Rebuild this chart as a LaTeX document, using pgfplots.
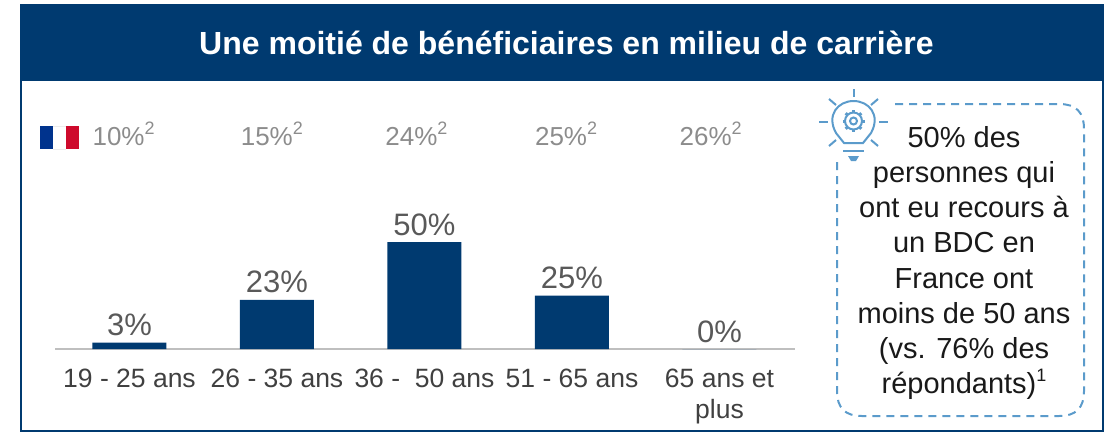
\documentclass[border=0pt]{standalone}
\usepackage{fontspec}
\setmainfont{Liberation Sans}
\usepackage{pgfplots}
\pgfplotsset{compat=1.18}
\definecolor{navy}{RGB}{0,58,112}
\definecolor{valgray}{RGB}{89,89,89}
\definecolor{refgray}{RGB}{140,140,140}
\definecolor{lbl}{RGB}{64,64,64}
\definecolor{bulb}{RGB}{91,155,203}
\definecolor{flagblue}{RGB}{0,51,141}
\definecolor{flagred}{RGB}{206,10,44}
\newcommand{\fs}[1]{\fontsize{#1}{#1}\selectfont}
\newcommand{\exposant}[2]{\raisebox{#1pt}{\fs{18}#2}}
\begin{document}
\begin{tikzpicture}[x=1pt,y=-1pt]
\path[use as bounding box] (0,0) rectangle (1107,432);
% frame and header
\draw[navy,line width=2.5pt] (21,40) -- (21,431) -- (1103,431) -- (1103,40);
\fill[navy] (20,3.5) rectangle (1104,81);
\node[white,font=\fs{32}\bfseries] at (566.5,43) {Une moitié de bénéficiaires en milieu de carrière};
% flag
\fill[flagblue] (40,126) rectangle (53,149);
\fill[flagred] (66,126) rectangle (79,149);
\draw[gray!15,line width=0.5pt] (53,126) -- (66,126) (53,149) -- (66,149);
\begin{axis}[
    at={(55pt,-349pt)},anchor=south west,
    scale only axis,width=740pt,height=107pt,
    ybar=0pt,bar width=74pt,
    xmin=-0.505,xmax=4.512,ymin=0,ymax=50,
    axis x line=bottom,axis y line=none,
    axis line style={draw=gray!50,line width=2pt,-},
    x axis line style={-},
    xtick={0,1,2,3,4},
    xticklabels={19 - 25 ans,26 - 35 ans,36 -\ \ 50 ans,51 - 65 ans,{65 ans et\\plus}},
    xticklabel style={align=center,font=\fontsize{26.5}{31}\selectfont,text=lbl,yshift=-16pt},
    major tick length=0pt,
    clip=false,
    /pgf/number format/assume math mode=true,
    nodes near coords={\pgfmathprintnumber{\pgfplotspointmeta}\%},
    nodes near coords style={font=\fs{31},text=valgray,inner sep=1pt,yshift=5.5pt},
]
\addplot[fill=navy,draw=none] coordinates {(0,3) (1,23) (2,50) (3,25) (4,0)};
\node[text=refgray,font=\fs{26},anchor=base] at (axis cs:-0.04,95) {10\%\exposant{11}{2}};
\node[text=refgray,font=\fs{26},anchor=base] at (axis cs:0.965,95) {15\%\exposant{11}{2}};
\node[text=refgray,font=\fs{26},anchor=base] at (axis cs:1.945,95) {24\%\exposant{11}{2}};
\node[text=refgray,font=\fs{26},anchor=base] at (axis cs:2.96,95) {25\%\exposant{11}{2}};
\node[text=refgray,font=\fs{26},anchor=base] at (axis cs:3.94,95) {26\%\exposant{11}{2}};
\end{axis}
% callout
\draw[bulb,line width=2pt,dash pattern=on 8pt off 6pt] (837,162) -- (837,391) .. controls (837,408) and (845,416) .. (862,416) -- (1059,416) .. controls (1076,416) and (1084,408) .. (1084,391) -- (1084,129) .. controls (1084,112) and (1076,104) .. (1059,104) -- (892,104);
\node[align=center,font=\fontsize{29}{35.2}\selectfont,text=black!90,inner sep=0pt] at (964,263) {50\% des\\personnes qui\\ont eu recours à\\un BDC en\\France ont\\moins de 50 ans\\(vs. 76\% des\\répondants)\exposant{12}{1}};
% bulb icon
\begin{scope}[bulb,line width=2pt]
\draw (844,143) -- (836,133) .. controls (826,115) and (838,101) .. (853.5,101) .. controls (869,101) and (881,115) .. (871,133) -- (863,143) -- cycle;
\draw (843,150.5) -- (864,150.5);
\fill (848,156) -- (859,156) -- (856,161) -- (851,161) -- cycle;
\draw (853.5,121) circle (8.5);
\draw (853.5,121) circle (3.5);
\foreach \a in {0,45,...,315}
  \draw[line width=3pt] ({853.5+8.5*cos(\a)},{121+8.5*sin(\a)}) -- ({853.5+11*cos(\a)},{121+11*sin(\a)});
\draw (853.5,89) -- (853.5,97);
\draw (819,122) -- (828,122);
\draw (879,122) -- (888,122);
\draw (829,99) -- (836,105);
\draw (878,99) -- (871,105);
\draw (829,146) -- (836,140);
\draw (878,146) -- (871,140);
\end{scope}
\end{tikzpicture}
\end{document}
